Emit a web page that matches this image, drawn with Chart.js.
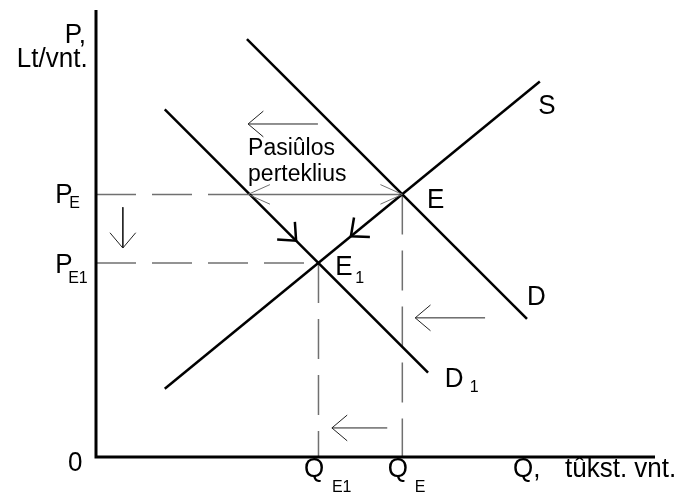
<!DOCTYPE html>
<html>
<head>
<meta charset="utf-8">
<script src="https://cdn.jsdelivr.net/npm/chart.js@4.4.1/dist/chart.umd.min.js"></script>
<style>
  body { margin: 0; background: #fff; }
</style>
</head>
<body>
<canvas id="chart" width="683" height="493"></canvas>
<script>
// Q (tûkst. vnt.) and P (Lt/vnt.) in arbitrary diagram units
const qRange = [0, 100]
const pRange = [0, 80]

const supplyS = [[12.3, 12.2], [79.4, 67.2]]
const demandD = [[27.0, 74.8], [77.1, 24.7]]
const demandD1 = [[12.3, 62.2], [59.4, 15.1]]

const pointE = [54.8, 47.0]
const pointE1 = [39.8, 34.7]

// shift arrows: [fromQ, fromP, toQ, toP]
const shiftArrows = [
  [39.7, 59.6, 27.2, 59.6],
  [4.8, 44.7, 4.8, 37.4],
  [69.6, 24.9, 57.1, 24.9],
  [52.1, 5.2, 42.2, 5.2]
]
// arrows drawn along the curves: [tipQ, tipP, directionQ, directionP]
const curveArrows = [
  [35.8, 38.7, 1, -1],
  [45.6, 39.5, -1, -0.82]
]

// text, subscript, Q, P, align, size, sub dx, sub dy
const labels = [
  ["P,", "", -1.8, 74.1, "right", 26],
  ["Lt/vnt.", "", -1.5, 69.8, "right", 26],
  ["P", "E", -7.3, 45.5, "left", 26, 14, 5],
  ["P", "E1", -7.3, 32.9, "left", 26, 13, 10],
  ["0", "", -5.0, -2.5, "left", 26],
  ["Q", "E1", 37.2, -3.6, "left", 26, 28, 15],
  ["Q", "E", 52.2, -3.6, "left", 26, 27, 15],
  ["Q,", "", 74.6, -3.6, "left", 26],
  ["tûkst. vnt.", "", 83.9, -3.6, "left", 26],
  ["S", "", 79.1, 61.4, "left", 26],
  ["E", "", 59.2, 44.6, "left", 26],
  ["E", "1", 42.8, 32.6, "left", 26, 20, 8],
  ["D", "", 77.1, 27.2, "left", 26],
  ["D", "1", 62.4, 12.5, "left", 26, 25, 5],
  ["Pasiûlos", "", 27.2, 54.0, "left", 23],
  ["perteklius", "", 27.2, 49.4, "left", 23]
]

const FONT = "'Liberation Sans', Arial, sans-serif"
const TEXT_STRETCH = 1.08

const toPoints = (pairs) => pairs.map(([x, y]) => ({ x, y }))

const solid = (data, width, color) => ({
  data: toPoints(data), showLine: true, borderColor: color, borderWidth: width,
  pointRadius: 0, clip: false, fill: false
})
const dashed = (data) => ({ ...solid(data, 1.5, "#707070"), borderDash: [40, 16] })

const datasets = [
  solid([[0, pRange[1]], [0, 0], [qRange[1], 0]], 3, "#000"),
  solid(supplyS, 2.5, "#000"),
  solid(demandD, 2.5, "#000"),
  solid(demandD1, 2.5, "#000"),
  dashed([[0, pointE[1]], [27.2, pointE[1]]]),
  dashed([[0, pointE1[1]], pointE1]),
  dashed([pointE1, [pointE1[0], 0]]),
  dashed([pointE, [pointE[0], 0]]),
  solid([[27.2, pointE[1]], pointE], 1.5, "#707070"),
  ...shiftArrows.map(([a, b, c, d]) => solid([[a, b], [c, d]], 1, "#222"))
]

function head(ctx, tx, ty, dx, dy, len, half) {
  // dx, dy in pixels point the direction of travel
  const ang = Math.atan2(dy, dx) + Math.PI
  ctx.beginPath()
  ctx.moveTo(tx + len * Math.cos(ang - half), ty + len * Math.sin(ang - half))
  ctx.lineTo(tx, ty)
  ctx.lineTo(tx + len * Math.cos(ang + half), ty + len * Math.sin(ang + half))
  ctx.stroke()
}

function stretchedText(ctx, text, x, y) {
  ctx.save()
  ctx.translate(x, y)
  ctx.scale(1, TEXT_STRETCH)
  ctx.fillText(text, 0, 0)
  ctx.restore()
}

const annotations = {
  id: "annotations",
  afterDatasetsDraw(chart) {
    const { ctx } = chart
    const xs = chart.scales.x, ys = chart.scales.y
    const px = (q) => xs.getPixelForValue(q)
    const py = (p) => ys.getPixelForValue(p)
    ctx.save()
    ctx.lineCap = "butt"

    ctx.strokeStyle = "#222"
    ctx.lineWidth = 1
    shiftArrows.forEach(([a, b, c, d]) => {
      head(ctx, px(c), py(d), px(c) - px(a), py(d) - py(b), 20, 0.7)
    })

    ctx.strokeStyle = "#707070"
    ctx.lineWidth = 1
    head(ctx, px(27.2), py(pointE[1]), -1, 0, 24, 0.42)
    head(ctx, px(pointE[0]), py(pointE[1]), 1, 0, 24, 0.42)

    ctx.strokeStyle = "#000"
    ctx.lineWidth = 2.5
    curveArrows.forEach(([q, p, dq, dp]) => {
      head(ctx, px(q), py(p), px(q + dq) - px(q), py(p + dp) - py(p), 19, 0.72)
    })

    ctx.fillStyle = "#000"
    ctx.textBaseline = "alphabetic"
    labels.forEach(([text, sub, q, p, align, size, sdx, sdy]) => {
      ctx.font = `${size}px ${FONT}`
      ctx.textAlign = align
      stretchedText(ctx, text, px(q), py(p))
      if (sub) {
        ctx.font = `16px ${FONT}`
        ctx.textAlign = "left"
        stretchedText(ctx, sub, px(q) + sdx, py(p) + sdy)
      }
    })
    ctx.restore()
  }
}

new Chart(document.getElementById("chart"), {
  type: "scatter",
  data: { datasets },
  options: {
    responsive: false,
    animation: false,
    layout: { padding: { left: 96, right: 28, top: 10, bottom: 36 } },
    plugins: { legend: { display: false }, tooltip: { enabled: false } },
    scales: {
      x: { type: "linear", display: false, min: qRange[0], max: qRange[1] },
      y: { type: "linear", display: false, min: pRange[0], max: pRange[1] }
    }
  },
  plugins: [annotations]
})
</script>
</body>
</html>
